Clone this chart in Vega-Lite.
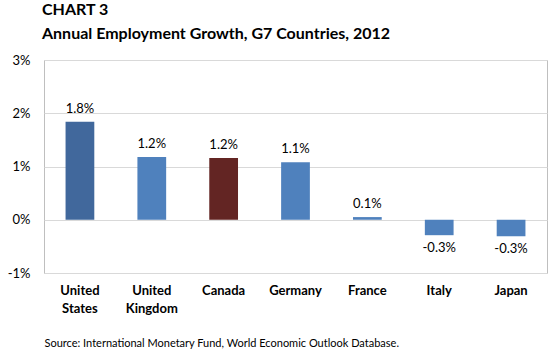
{
  "$schema": "https://vega.github.io/schema/vega-lite/v6.json",
  "autosize": "none",
  "width": 503,
  "height": 213,
  "padding": {"left": 44, "top": 60, "right": 5, "bottom": 83},
  "background": "white",
  "title": {
    "text": ["CHART 3", "Annual Employment Growth,  G7 Countries, 2012"],
    "anchor": "start",
    "frame": "group",
    "font": "Lato",
    "fontSize": 16,
    "fontWeight": "bold",
    "color": "#000000",
    "lineHeight": 24,
    "offset": 12,
    "dx": -2
  },
  "config": {
    "font": "Lato",
    "locale": {"number": {"decimal": ".", "thousands": ",", "grouping": [3], "currency": ["$", ""], "minus": "-"}},
    "view": {"stroke": "#BFBFBF", "strokeWidth": 1}
  },
  "data": {
    "values": [
      {"country": "United States", "value": 0.0184, "group": "us"},
      {"country": "United Kingdom", "value": 0.0118, "group": "other"},
      {"country": "Canada", "value": 0.0116, "group": "canada"},
      {"country": "Germany", "value": 0.0108, "group": "other"},
      {"country": "France", "value": 0.0005, "group": "other"},
      {"country": "Italy", "value": -0.0029, "group": "other"},
      {"country": "Japan", "value": -0.0031, "group": "other"}
    ]
  },
  "encoding": {
    "x": {
      "field": "country",
      "type": "nominal",
      "sort": null,
      "scale": {"paddingInner": 0.6, "paddingOuter": 0.3},
      "axis": {
        "title": "Source: International Monetary Fund, World Economic Outlook Database.",
        "titleAnchor": "start",
        "titleFont": "Lato",
        "titleFontSize": 11,
        "titleFontWeight": "normal",
        "titleColor": "#000000",
        "titlePadding": 22,
        "labelAngle": 0,
        "labelFontWeight": "bold",
        "labelFontSize": 13,
        "labelColor": "#000000",
        "labelLineHeight": 18,
        "labelPadding": 11,
        "labelExpr": "indexof(datum.label, 'United') == 0 ? split(datum.label, ' ') : datum.label",
        "domain": false,
        "ticks": false,
        "orient": "bottom"
      }
    },
    "y": {
      "field": "value",
      "type": "quantitative",
      "scale": {"domain": [-0.01, 0.03], "nice": false},
      "axis": {
        "title": null,
        "values": [-0.01, 0, 0.01, 0.02, 0.03],
        "format": ".0%",
        "labelFontSize": 13,
        "labelColor": "#000000",
        "labelPadding": 14,
        "domain": false,
        "ticks": false,
        "gridColor": "#D9D9D9",
        "gridWidth": 1
      }
    }
  },
  "layer": [
    {
      "mark": {"type": "bar"},
      "encoding": {
        "color": {
          "field": "group",
          "type": "nominal",
          "scale": {"domain": ["us", "other", "canada"], "range": ["#41689C", "#4F81BD", "#632523"]},
          "legend": null
        }
      }
    },
    {
      "transform": [{"filter": "datum.value >= 0"}],
      "mark": {"type": "text", "baseline": "bottom", "dy": -6, "fontSize": 13, "color": "#000000"},
      "encoding": {"text": {"field": "value", "type": "quantitative", "format": ".1%"}}
    },
    {
      "transform": [{"filter": "datum.value < 0"}],
      "mark": {"type": "text", "baseline": "top", "dy": 7, "fontSize": 13, "color": "#000000"},
      "encoding": {"text": {"field": "value", "type": "quantitative", "format": ".1%"}}
    }
  ]
}
